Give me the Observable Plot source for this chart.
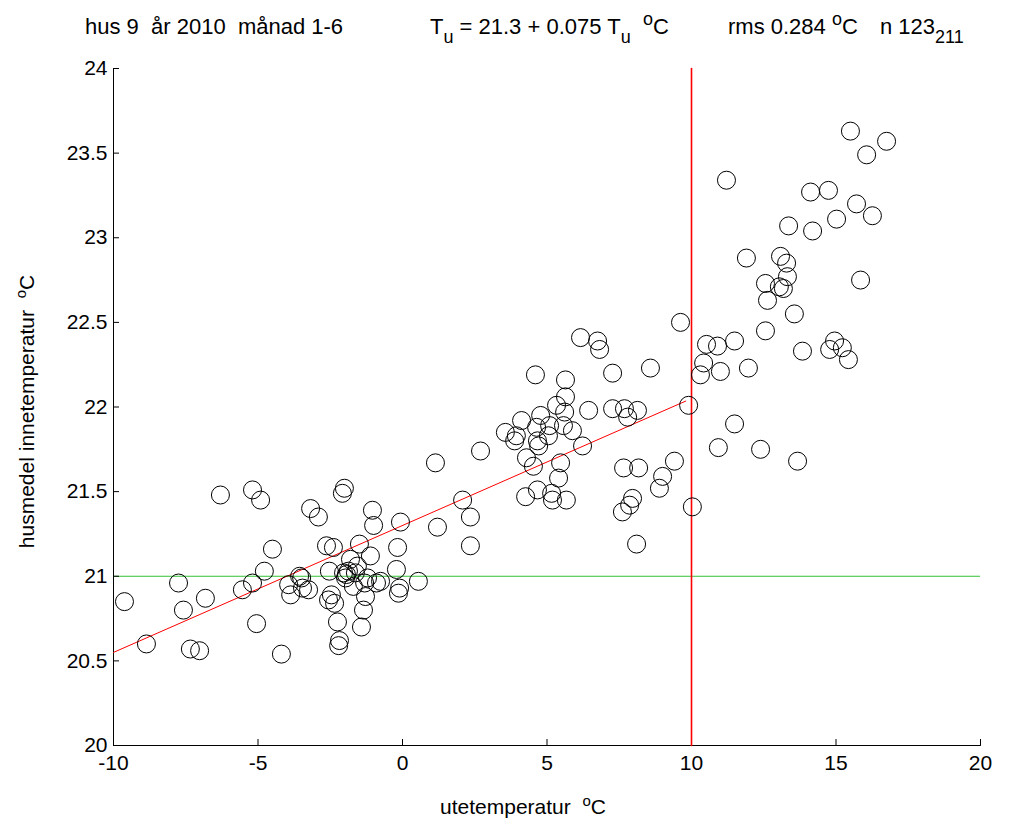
<!DOCTYPE html>
<html><head><meta charset="utf-8">
<script src="https://cdn.jsdelivr.net/npm/d3@7"></script>
<script src="https://cdn.jsdelivr.net/npm/@observablehq/plot@0.6"></script>
<style>
body{margin:0;background:#fff;font-family:"Liberation Sans",Arial,sans-serif;}
#wrap{position:relative;width:1015px;height:828px;}
.lab{position:absolute;font-size:21px;color:#000;white-space:pre;}
.t{font-size:22px;}
.lo{position:relative;top:9px;font-size:18px;}
.hi{position:relative;top:-9px;font-size:18px;}
sup{font-size:15px;}
</style></head><body>
<div id="wrap">
  <div id="chart"></div>
  <div class="lab t" style="left:85px;top:14px;">hus 9  år 2010  månad 1-6</div>
  <div class="lab t" style="left:430px;top:14px;">T<span class="lo">u</span> = 21.3 + 0.075 T<span class="lo">u</span>  <span class="hi">o</span>C</div>
  <div class="lab t" style="left:728px;top:14px;">rms 0.284 <span class="hi">o</span>C</div>
  <div class="lab t" style="left:880px;top:14px;">n 123<span class="lo">211</span></div>
  <div class="lab" style="left:440px;top:792px;">utetemperatur  <sup>o</sup>C</div>
  <div class="lab" style="left:-135px;top:398px;transform:rotate(-90deg);transform-origin:center;width:320px;text-align:center;">husmedel innetemperatur  <sup>o</sup>C</div>
</div>
<script>
const ute = [-9.62,-8.86,-7.75,-7.58,-7.34,-7.02,-6.82,-6.30,-5.54,-5.19,-5.19,-5.05,-4.91,-4.78,-4.50,-4.19,-3.94,-3.87,-3.56,-3.49,-3.46,-3.25,-3.18,-2.91,-2.63,-2.56,-2.53,-2.46,-2.39,-2.35,-2.25,-2.21,-2.18,-2.08,-2.04,-2.01,-1.97,-1.94,-1.87,-1.80,-1.70,-1.63,-1.56,-1.49,-1.42,-1.35,-1.31,-1.28,-1.21,-1.11,-1.04,-1.00,-0.90,-0.76,-0.21,-0.17,-0.14,-0.10,-0.07,0.55,1.21,1.14,2.08,2.35,2.35,2.70,3.56,3.88,3.94,4.12,4.26,4.29,4.53,4.60,4.64,4.67,4.67,4.78,4.71,5.05,5.09,5.16,5.19,5.33,5.40,5.47,5.57,5.61,5.64,5.64,5.67,5.88,6.16,6.23,6.44,6.75,6.82,7.27,7.27,7.61,7.65,7.68,7.79,7.86,7.96,8.10,8.13,8.17,8.58,8.89,9.00,9.41,9.62,9.90,10.03,10.31,10.42,10.52,10.90,10.93,11.00,11.21,11.49,11.49,11.90,11.97,12.39,12.56,12.56,12.63,13.04,13.08,13.18,13.29,13.32,13.36,13.56,13.67,13.84,14.12,14.19,14.74,14.78,14.95,15.02,15.22,15.43,15.50,15.71,15.85,16.06,16.26,16.75];
const inne = [20.85,20.60,20.96,20.80,20.57,20.56,20.87,21.48,20.92,21.51,20.96,20.72,21.45,21.03,21.16,20.54,20.95,20.89,21.00,20.99,20.93,20.92,21.40,21.35,21.18,20.86,21.03,20.89,21.17,20.84,20.73,20.59,20.62,21.49,21.02,21.52,20.99,21.01,21.03,21.10,20.94,21.02,21.06,21.19,20.70,20.80,20.96,20.88,20.99,21.12,21.39,21.30,20.96,20.97,21.04,21.17,20.90,20.93,21.32,20.97,21.29,21.67,21.45,21.35,21.18,21.74,21.85,21.80,21.83,21.92,21.47,21.70,21.65,22.19,21.88,21.80,21.51,21.95,21.77,21.83,21.89,21.49,21.45,22.01,21.58,21.67,21.89,21.97,22.16,22.06,21.45,21.86,22.41,21.77,21.98,22.39,22.34,22.20,21.99,21.38,21.64,21.99,21.94,21.42,21.46,21.19,21.98,21.64,22.23,21.52,21.59,21.68,22.50,22.01,21.41,22.19,22.26,22.37,22.36,21.76,22.21,23.34,21.90,22.39,22.88,22.23,21.75,22.45,22.73,22.63,22.71,22.89,22.70,22.85,22.77,23.07,22.55,21.68,22.33,23.27,23.04,23.28,22.34,22.39,23.11,22.35,22.28,23.63,23.20,22.75,23.49,23.13,23.57];
const fitX = [-10, 9.8];
const fitA = 21.3, fitB = 0.075;
const xTicks = [-10,-5,0,5,10,15,20];
const yTicks = [20,20.5,21,21.5,22,22.5,23,23.5,24];

const pts = ute.map((u, i) => ({u, t: inne[i]}));
const fit = fitX.map(u => ({u, t: fitA + fitB * u}));
const vline = [{u: 10, t: 20}, {u: 10, t: 24}];
const axes = [{u: -10, t: 24}, {u: -10, t: 20}, {u: 20, t: 20}];
const fmt = d => String(d);

const chart = Plot.plot({
  width: 1015, height: 828,
  marginLeft: 113, marginRight: 35, marginTop: 68, marginBottom: 83,
  style: {fontFamily: "Liberation Sans, Arial, sans-serif", fontSize: "21px", color: "#000"},
  x: {domain: [-10, 20], label: null},
  y: {domain: [20, 24], label: null},
  marks: [
    Plot.ruleY([21], {stroke: "#00b000", strokeWidth: 0.8}),
    Plot.axisX({ticks: xTicks, tickFormat: fmt, tickSize: -6, tickPadding: 16, fontSize: 21, label: null}),
    Plot.axisY({ticks: yTicks, tickFormat: fmt, tickSize: -6, tickPadding: 12, fontSize: 21, label: null}),
    Plot.line(axes, {x: "u", y: "t", stroke: "black", strokeWidth: 1}),
    Plot.line(vline, {x: "u", y: "t", stroke: "#ff0000", strokeWidth: 1.6}),
    Plot.line(fit, {x: "u", y: "t", stroke: "#ff0000", strokeWidth: 1}),
    Plot.dot(pts, {x: "u", y: "t", r: 9, stroke: "black", strokeWidth: 1, fill: "none"})
  ]
});
document.getElementById("chart").append(chart);
</script>
</body></html>
